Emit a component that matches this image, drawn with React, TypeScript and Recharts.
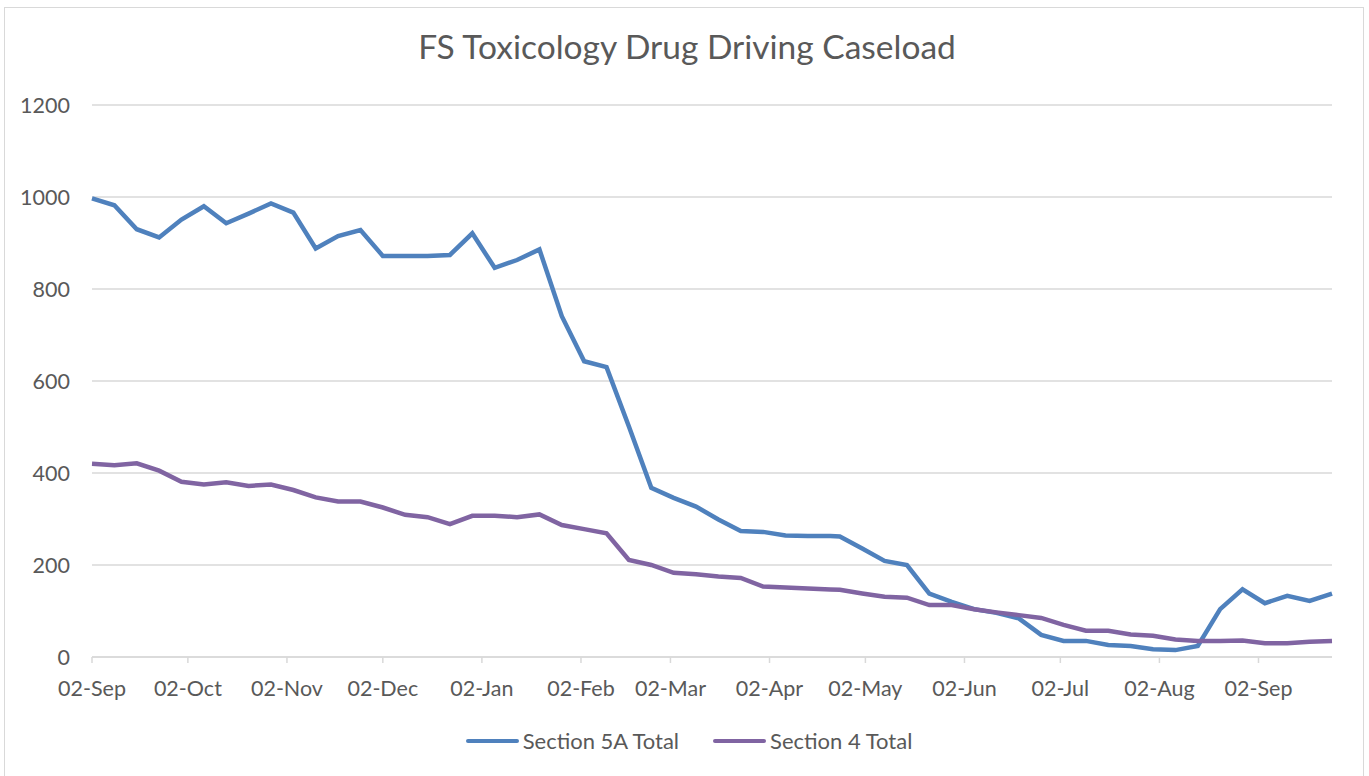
import { LineChart, Line, XAxis, YAxis, CartesianGrid, Legend } from 'recharts';

// days since 02-Sep
const dayOffsets = [
  0, 7, 14, 21, 28, 35, 42, 49, 56, 63, 70, 77, 84, 91, 98, 105, 112, 119, 126, 133,
  140, 147, 154, 161, 168, 175, 182, 189, 196, 203, 210, 217, 224, 231, 234, 241, 248, 255, 262, 269,
  276, 283, 290, 297, 304, 311, 318, 325, 332, 339, 346, 353, 360, 367, 374, 381, 388,
];

const section5A = [
  997, 982, 930, 912, 951, 980, 943, 964, 986, 966, 888, 915, 928, 872, 872, 872, 874, 921, 846, 863,
  886, 741, 643, 630, 501, 368, 346, 327, 299, 274, 272, 264, 263, 263, 262, 236, 209, 200, 138, 120,
  104, 96, 84, 48, 35, 35, 26, 24, 17, 15, 24, 104, 147, 117, 133, 122, 138,
];

const section4 = [
  420, 417, 421, 405, 381, 375, 380, 372, 375, 363, 347, 338, 338, 325, 309, 304, 289, 307, 307, 304,
  310, 287, 278, 269, 211, 200, 183, 180, 175, 172, 153, 151, 149, 147, 146, 138, 131, 129, 113, 113,
  104, 97, 91, 85, 70, 57, 57, 49, 46, 38, 35, 35, 36, 30, 30, 33, 35,
];

const tickDays = [0, 30, 61, 91, 122, 153, 181, 212, 242, 273, 303, 334, 365];
const tickLabels = [
  '02-Sep', '02-Oct', '02-Nov', '02-Dec', '02-Jan', '02-Feb', '02-Mar',
  '02-Apr', '02-May', '02-Jun', '02-Jul', '02-Aug', '02-Sep',
];
const yTicks = [0, 200, 400, 600, 800, 1000, 1200];

const seriesNames = ['Section 5A Total', 'Section 4 Total'];
const seriesColors = ['#4f81bd', '#8064a2'];

const data = dayOffsets.map((day, i) => ({ day, s5a: section5A[i], s4: section4[i] }));

const FONT = 'Lato, "Open Sans", sans-serif';
const TEXT = '#595959';

function LegendRow() {
  return (
    <div
      style={{
        display: 'flex', justifyContent: 'center', gap: 34, paddingLeft: 46,
        fontFamily: FONT, fontSize: 22, color: TEXT,
      }}
    >
      {seriesNames.map((name, i) => (
        <div key={name} style={{ display: 'flex', alignItems: 'center', gap: 4 }}>
          <span style={{ display: 'inline-block', width: 53, height: 4, borderRadius: 2, background: seriesColors[i] }} />
          <span>{name}</span>
        </div>
      ))}
    </div>
  );
}

export default function App() {
  return (
    <div style={{ position: 'absolute', left: 0, top: 0, width: 1369, height: 776, background: '#fff', overflow: 'hidden' }}>
      <div style={{ position: 'absolute', left: 4, top: 7, width: 1358, height: 790, border: '1px solid #d9d9d9' }} />
      <div
        style={{
          position: 'absolute', left: 0, top: 26, width: 1374, textAlign: 'center',
          fontFamily: FONT, fontSize: 33.5, color: TEXT,
        }}
      >
        FS Toxicology Drug Driving Caseload
      </div>
      <div style={{ position: 'absolute', left: 0, top: 0 }}>
        <LineChart width={1369} height={776} data={data} margin={{ top: 105, right: 37, bottom: 20, left: 0 }}>
          <CartesianGrid vertical={false} stroke="#d9d9d9" strokeWidth={1.5} />
          <XAxis
            dataKey="day"
            type="number"
            domain={[0, 388]}
            ticks={tickDays}
            tickFormatter={(v: number) => tickLabels[tickDays.indexOf(v)]}
            stroke="#d9d9d9"
            strokeWidth={1.5}
            tickSize={6}
            tickMargin={18}
            height={40}
            tick={{ fill: TEXT, fontSize: 21.5, fontFamily: FONT }}
          />
          <YAxis
            domain={[0, 1200]}
            ticks={yTicks}
            width={92}
            axisLine={false}
            tickLine={false}
            tickSize={0}
            tickMargin={22}
            tick={{ fill: TEXT, fontSize: 21.5, fontFamily: FONT }}
          />
          <Legend
            verticalAlign="bottom"
            height={59}
            wrapperStyle={{ top: 727, bottom: 'auto' }}
            content={() => <LegendRow />}
          />
          <Line
            dataKey="s5a"
            name={seriesNames[0]}
            stroke={seriesColors[0]}
            strokeWidth={4.5}
            dot={false}
            isAnimationActive={false}
          />
          <Line
            dataKey="s4"
            name={seriesNames[1]}
            stroke={seriesColors[1]}
            strokeWidth={4.5}
            dot={false}
            isAnimationActive={false}
          />
        </LineChart>
      </div>
    </div>
  );
}
